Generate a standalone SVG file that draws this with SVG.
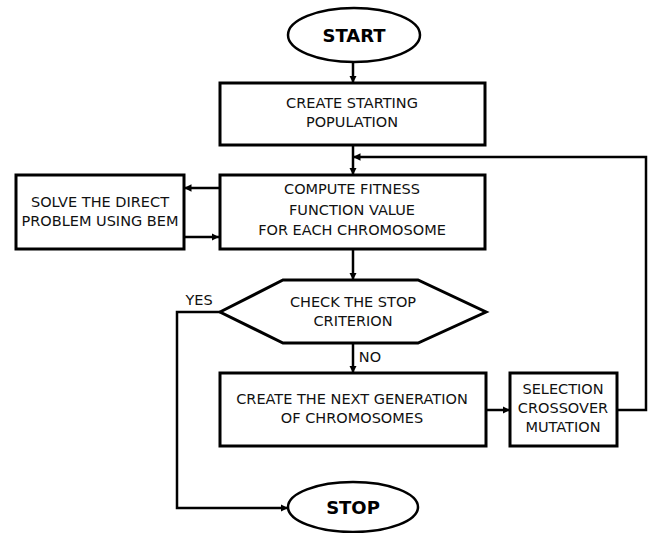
<svg xmlns="http://www.w3.org/2000/svg" width="652" height="533" viewBox="0 0 652 533">
<defs>
<marker id="ah" viewBox="0 0 10 10" refX="10" refY="5" markerWidth="3" markerHeight="3" orient="auto" markerUnits="strokeWidth">
<path d="M0,0 L10,5 L0,10 z" fill="#000"/>
</marker>
<style>
.box{fill:#fff;stroke:#000;stroke-width:3}
.ell{fill:#fff;stroke:#000;stroke-width:2.5}
.t{font-family:"DejaVu Sans",Verdana,sans-serif;font-size:14.5px;fill:#111;text-anchor:middle}
.b{font-family:"DejaVu Sans",Verdana,sans-serif;font-size:18px;font-weight:bold;fill:#000;text-anchor:middle}
.c{fill:none;stroke:#000;stroke-width:2.5;marker-end:url(#ah)}
.l{fill:none;stroke:#000;stroke-width:2.5}
</style>
</defs>
<rect width="652" height="533" fill="#fff"/>
<g id="connectors">
<path class="c" d="M353,62 V83"/>
<path class="c" d="M353,145 V175"/>
<path class="c" d="M219,188 H184"/>
<path class="c" d="M184,237 H219"/>
<path class="c" d="M353,249 V280"/>
<path class="c" d="M353,343 V373"/>
<path class="c" d="M486,410 H510"/>
<path class="c" d="M617,410 H646 V157 H353"/>
<path class="c" d="M220,312 H177 V508 H288"/>
</g>
<g id="start"><ellipse class="ell" cx="354" cy="35" rx="66" ry="27"/><text class="b" x="354" y="42">START</text></g>
<g id="create"><rect class="box" x="220" y="83" width="265" height="62"/><text class="t" x="352" y="108">CREATE STARTING</text><text class="t" x="352" y="127">POPULATION</text></g>
<g id="compute"><rect class="box" x="220" y="175" width="265" height="74"/><text class="t" x="352" y="194">COMPUTE FITNESS</text><text class="t" x="352" y="215">FUNCTION VALUE</text><text class="t" x="352" y="235">FOR EACH CHROMOSOME</text></g>
<g id="solve"><rect class="box" x="16" y="175" width="168" height="74"/><text class="t" x="100" y="207">SOLVE THE DIRECT</text><text class="t" x="100" y="226">PROBLEM USING BEM</text></g>
<g id="check"><polygon class="box" points="220,312 283,280 418,280 486,312 418,343 283,343"/><text class="t" x="353" y="307">CHECK THE STOP</text><text class="t" x="353" y="326">CRITERION</text></g>
<g id="next"><rect class="box" x="220" y="373" width="266" height="73"/><text class="t" x="352" y="404">CREATE THE NEXT GENERATION</text><text class="t" x="352" y="423">OF CHROMOSOMES</text></g>
<g id="selection"><rect class="box" x="510" y="373" width="107" height="73"/><text class="t" x="563" y="394">SELECTION</text><text class="t" x="563" y="413">CROSSOVER</text><text class="t" x="563" y="432">MUTATION</text></g>
<g id="stop"><ellipse class="ell" cx="353" cy="507" rx="65" ry="25"/><text class="b" x="353" y="514">STOP</text></g>
<g id="labels"><text class="t" x="199" y="305">YES</text><text class="t" x="370" y="362">NO</text></g>
</svg>
